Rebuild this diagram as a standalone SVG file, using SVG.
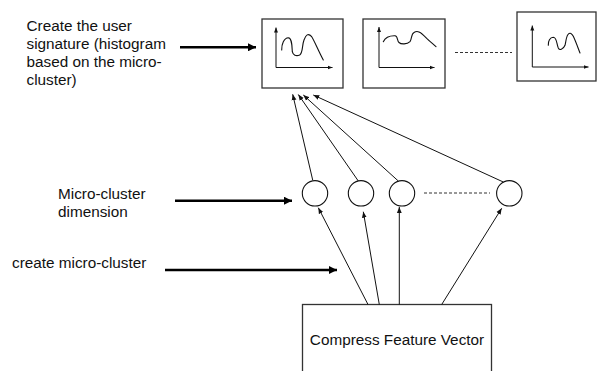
<svg xmlns="http://www.w3.org/2000/svg" width="597" height="371" viewBox="0 0 597 371">
<style>
text{font-family:"Liberation Sans",Arial,sans-serif;font-size:15.3px;fill:#111}
.box{fill:#fff;stroke:#333;stroke-width:1.3}
.ax{stroke:#111;stroke-width:1;fill:none}
.crv{stroke:#111;stroke-width:1.1;fill:none;stroke-linecap:round;stroke-linejoin:round}
.circ{fill:#fff;stroke:#111;stroke-width:1.1}
.thin{stroke:#111;stroke-width:1;fill:none}
.thick{stroke:#000;stroke-width:2.6;fill:none}
.dash{stroke:#333;stroke-width:1;stroke-dasharray:3,2;fill:none}
</style>
<defs>
<marker id="ah" viewBox="0 0 10 10" refX="10" refY="5" markerWidth="6" markerHeight="6" markerUnits="userSpaceOnUse" orient="auto"><path d="M0,1 L10,5 L0,9 z" fill="#111"/></marker>
<marker id="ahs" viewBox="0 0 10 10" refX="10" refY="5" markerWidth="5" markerHeight="5" markerUnits="userSpaceOnUse" orient="auto"><path d="M0,1 L10,5 L0,9 z" fill="#111"/></marker>
<marker id="ahb" viewBox="0 0 10 10" refX="10" refY="5" markerWidth="9" markerHeight="8" markerUnits="userSpaceOnUse" orient="auto"><path d="M0,0 L10,5 L0,10 z" fill="#000"/></marker>
</defs>

<g id="label-signature">
<text x="26.5" y="30.5">Create the user</text>
<text x="26.5" y="48.5">signature (histogram</text>
<text x="26.5" y="66.5">based on the micro-</text>
<text x="26.5" y="84.5">cluster)</text>
</g>
<g id="label-dimension">
<text x="58" y="198.5">Micro-cluster</text>
<text x="58" y="216.5">dimension</text>
</g>
<g id="label-create">
<text x="12" y="267.5">create micro-cluster</text>
</g>

<g id="hist1">
<rect class="box" x="262" y="19" width="81" height="69"/>
<path class="ax" d="M276,67.5 V27.5" marker-end="url(#ahs)"/>
<path class="ax" d="M276,67.5 H332.5" marker-end="url(#ahs)"/>
<path class="crv" d="M281.7,50 C281.5,44 284,38 288.3,37.7 C292,38 292,46 292.3,51.7 C293,55 296,56.5 299.7,55 C303,53 302,45 304,40 C306,35 308,32.5 311.7,36.7 C314,40 318,50 323.3,60"/>
</g>
<g id="hist2">
<rect class="box" x="363" y="19" width="82" height="69"/>
<path class="ax" d="M379,67.5 V27" marker-end="url(#ahs)"/>
<path class="ax" d="M379,67.5 H434.5" marker-end="url(#ahs)"/>
<path class="crv" d="M383.3,41.7 C385,38 389,35.5 395,35.7 C398,36 397,41 399,42.5 C401,44.5 407,44.5 410,41.7 C412,39 411,34 414,32.5 C417,30.5 420,31 426.7,38.3 C430,41.5 433,44 436,46.7"/>
</g>
<g id="dots-hist">
<line class="dash" x1="455" y1="52.5" x2="512" y2="52.5"/>
</g>
<g id="hist3">
<rect class="box" x="517" y="12" width="79" height="69"/>
<path class="ax" d="M532.3,67 V25.5" marker-end="url(#ahs)"/>
<path class="ax" d="M532.3,67 H588.5" marker-end="url(#ahs)"/>
<path class="crv" d="M548.3,45.3 C548,41 550,37.5 553.3,37.3 C557,37.3 556.5,44 558.3,48 C559.5,50.5 563,50 565,45.3 C566,42 566,37 568,34.5 C570,32 572,33.5 573.3,36.3 C576,42 578,48 580,53"/>
</g>

<g id="mc1"><circle class="circ" cx="315" cy="193.3" r="12.7"/></g>
<g id="mc2"><circle class="circ" cx="361" cy="193.3" r="12.7"/></g>
<g id="mc3"><circle class="circ" cx="402" cy="193.3" r="12.7"/></g>
<g id="dots-mc"><line class="dash" x1="424" y1="193" x2="490" y2="193"/></g>
<g id="mc4"><circle class="circ" cx="509.3" cy="193.3" r="12.7"/></g>

<g id="compress">
<rect class="box" x="302.5" y="304.5" width="189" height="80"/>
<text x="397" y="345" text-anchor="middle">Compress Feature Vector</text>
</g>

<g id="connectors">
<line class="thick" x1="180" y1="47.3" x2="256" y2="47.3" marker-end="url(#ahb)"/>
<line class="thick" x1="175" y1="200.7" x2="292" y2="200.7" marker-end="url(#ahb)"/>
<line class="thick" x1="165" y1="270" x2="337" y2="270" marker-end="url(#ahb)"/>

<line class="thin" x1="312.7" y1="180" x2="292.7" y2="94.3" marker-end="url(#ah)"/>
<line class="thin" x1="358.3" y1="181" x2="298.3" y2="94.5" marker-end="url(#ah)"/>
<line class="thin" x1="398.3" y1="181" x2="303.3" y2="95" marker-end="url(#ah)"/>
<line class="thin" x1="503.3" y1="182" x2="313.3" y2="95" marker-end="url(#ah)"/>

<line class="thin" x1="368" y1="304.5" x2="318.3" y2="207.7" marker-end="url(#ah)"/>
<line class="thin" x1="379.3" y1="304.5" x2="363.3" y2="211.7" marker-end="url(#ah)"/>
<line class="thin" x1="399.3" y1="304.5" x2="399.3" y2="207" marker-end="url(#ah)"/>
<line class="thin" x1="441.7" y1="304.5" x2="501.7" y2="208.3" marker-end="url(#ah)"/>
</g>
</svg>
